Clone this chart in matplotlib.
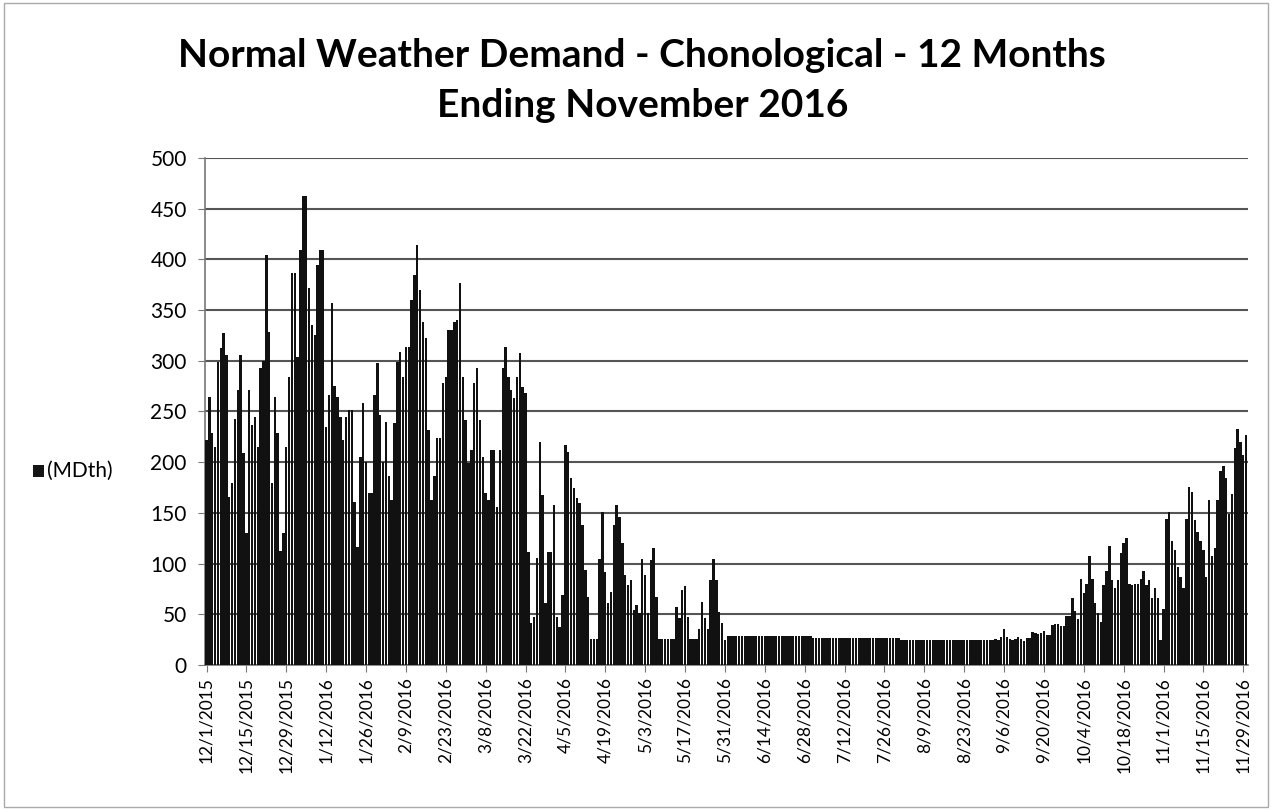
import numpy as np
import pandas as pd
import matplotlib.pyplot as plt
from matplotlib.patches import Rectangle

plt.rcParams['font.family'] = ['Lato', 'DejaVu Sans']

# daily demand (MDth), 12/1/2015 - 11/30/2016, read month by month
dec = [222, 264, 229, 215, 299, 313, 327, 306, 166, 179, 243, 271, 306, 209,
       130, 271, 237, 245, 215, 293, 300, 404, 328, 179, 264, 229, 112, 130,
       215, 284, 387]
jan = [387, 304, 409, 462, 462, 372, 335, 325, 394, 409, 409, 235, 266, 357,
       275, 264, 245, 222, 245, 251, 251, 161, 116, 205, 258, 200, 170, 170,
       266, 298, 247]
feb = [200, 240, 186, 163, 239, 299, 309, 284, 314, 314, 360, 385, 414, 370,
       338, 322, 232, 163, 186, 224, 224, 278, 284, 330, 330, 338, 340, 377,
       284]
mar = [242, 199, 212, 278, 293, 242, 205, 170, 163, 212, 212, 156, 212, 293,
       314, 284, 271, 263, 284, 308, 274, 268, 111, 41, 47, 106, 220, 168,
       61, 111, 111]
apr = [158, 47, 37, 69, 217, 210, 184, 175, 165, 160, 138, 94, 67, 26,
       26, 26, 105, 151, 92, 61, 72, 138, 158, 146, 120, 89, 79, 84,
       54, 59]
may = [51, 105, 89, 51, 104, 115, 67, 26, 26, 26, 26, 26, 26, 57,
       46, 74, 78, 47, 26, 26, 26, 36, 62, 46, 36, 84, 105, 84,
       52, 41, 25]
jun = [29] * 30
jul = [27] * 31
aug = [25] * 31
sep = [25, 25, 26, 25, 28, 36, 28, 26, 25, 26, 28, 26, 24, 27,
       27, 33, 32, 31, 32, 34, 30, 30, 39, 40, 40, 38, 38, 48,
       48, 66]
oct_ = [53, 45, 85, 71, 80, 107, 85, 61, 51, 42, 79, 93, 117, 84,
        76, 84, 110, 120, 125, 80, 79, 80, 80, 85, 93, 79, 84, 66,
        76, 66, 25]
nov = [55, 144, 151, 122, 113, 97, 87, 76, 144, 176, 171, 143, 131, 122,
       113, 87, 163, 107, 115, 163, 191, 196, 184, 149, 169, 214, 233, 220,
       207, 227]

demand = np.array(dec + jan + feb + mar + apr + may + jun + jul + aug + sep + oct_ + nov)
dates = pd.date_range('2015-12-01', '2016-11-30', freq='D')
labels = [f"{d.month}/{d.day}/{d.year}" for d in dates]

fig = plt.figure(figsize=(12.72, 8.10), dpi=100)
ax = fig.add_axes([0.161, 0.179, 0.820, 0.626])

x = np.arange(len(demand))
ax.bar(x, demand, width=0.85, color='#111111', edgecolor='none', zorder=3)

ax.set_xlim(-0.6, len(demand) - 0.4)
ax.set_ylim(0, 500)
ax.set_yticks(np.arange(0, 501, 50))
ax.yaxis.grid(True, color='#555555', linewidth=1.5)
ax.set_axisbelow(True)

tick_pos = x[::14]
ax.set_xticks(tick_pos)
ax.set_xticklabels([labels[i] for i in tick_pos], rotation=90, fontsize=12.5)
ax.tick_params(axis='y', labelsize=15, length=5, pad=8, color='#777777')
ax.tick_params(axis='x', length=5, color='#777777')

for s in ['top', 'right']:
    ax.spines[s].set_visible(False)
for s in ['left', 'bottom']:
    ax.spines[s].set_color('#777777')
    ax.spines[s].set_linewidth(1.2)

fig.text(0.505, 0.932, "Normal Weather Demand - Chonological - 12 Months",
         ha='center', va='center', fontsize=28, fontweight='bold')
fig.text(0.505, 0.870, "Ending November 2016",
         ha='center', va='center', fontsize=28, fontweight='bold')

# legend on the left
fig.patches.append(Rectangle((0.026, 0.411), 0.0085, 0.0145, transform=fig.transFigure,
                             facecolor='#151515', edgecolor='none'))
fig.text(0.037, 0.419, "(MDth)", ha='left', va='center', fontsize=15)

# chart border
fig.patches.append(Rectangle((0.003, 0.004), 0.994, 0.992, transform=fig.transFigure,
                             facecolor='none', edgecolor='#aaaaaa', linewidth=1))

fig.savefig('out.png', dpi=100)
